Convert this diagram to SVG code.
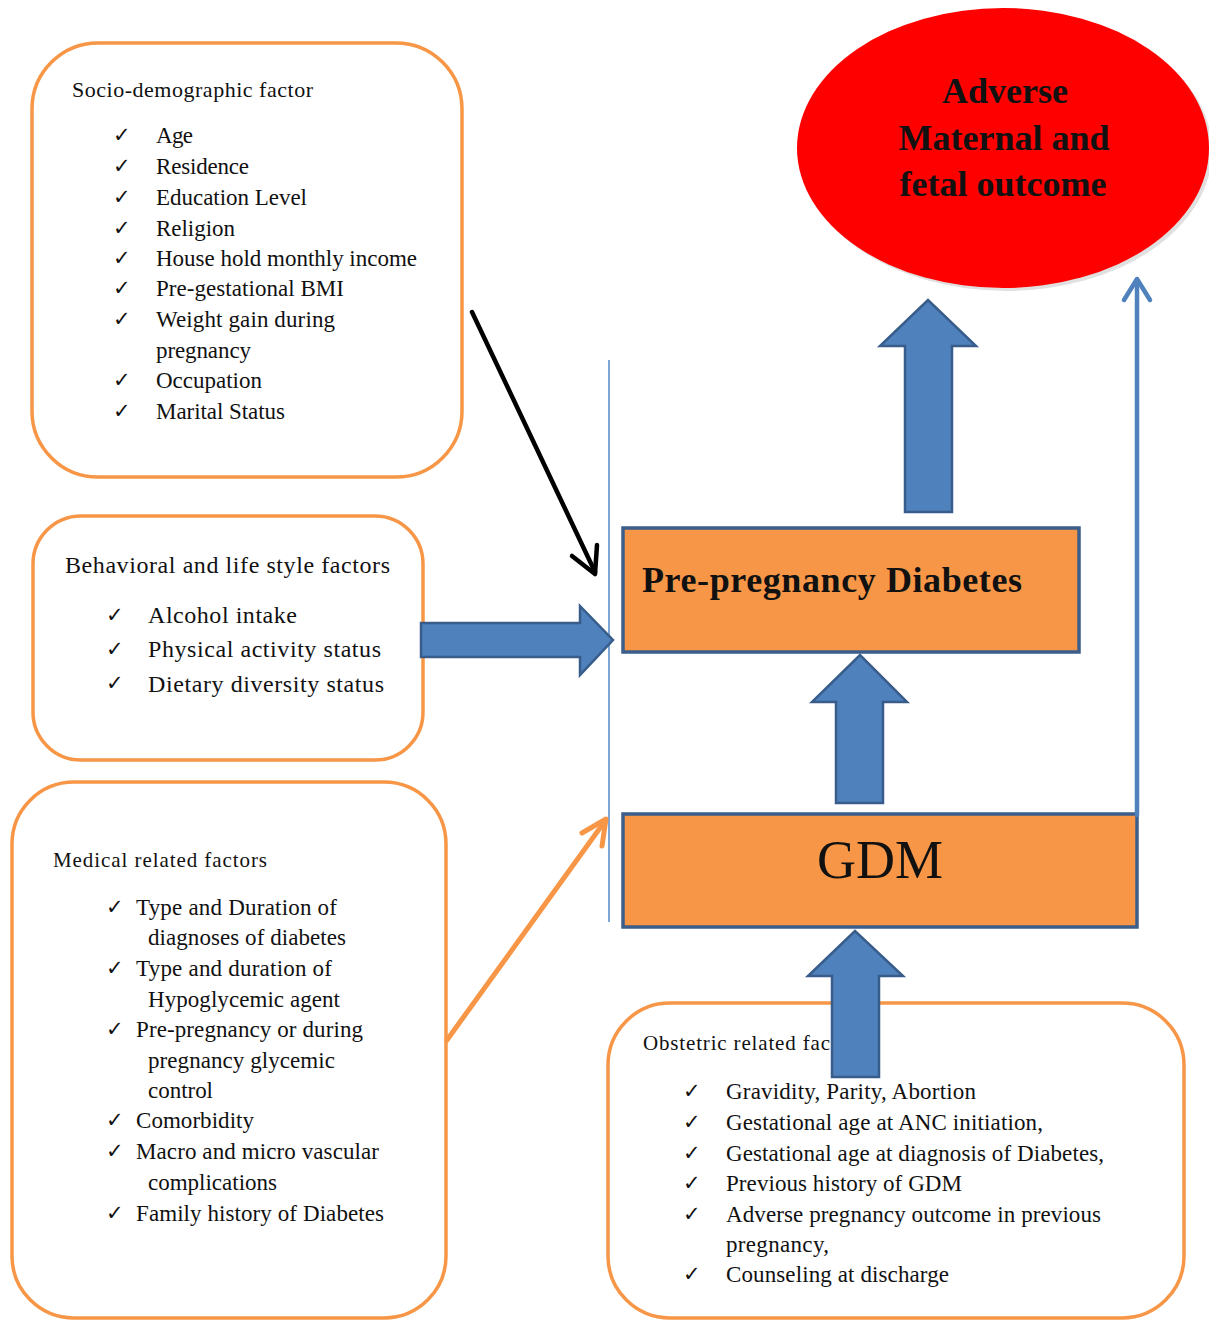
<svg xmlns="http://www.w3.org/2000/svg" width="1209" height="1321" viewBox="0 0 1209 1321">
<style>
.box{fill:#fff;stroke:#F79646;stroke-width:3.5}
.t{font-family:"Liberation Serif","Times New Roman",serif;fill:#111}
.ck{font-family:"DejaVu Sans",sans-serif;font-size:21px;fill:#111}
.blk{fill:#4F81BD;stroke:#385D8A;stroke-width:2.5;stroke-linejoin:miter}
.rect{fill:#F79646;stroke:#3B5E8C;stroke-width:3.5}
</style>
<rect width="1209" height="1321" fill="#fff"/>

<g id="socio">
<rect class="box" x="32" y="43" width="430" height="434" rx="66" ry="66"/>
<text class="t" x="72" y="97" font-size="22" textLength="241">Socio-demographic factor</text>
<g class="ck"><text x="113" y="142">✓</text><text x="113" y="173">✓</text><text x="113" y="204">✓</text><text x="113" y="235">✓</text><text x="113" y="265">✓</text><text x="113" y="295">✓</text><text x="113" y="326">✓</text><text x="113" y="387">✓</text><text x="113" y="418">✓</text></g>
<g class="t" font-size="23">
<text x="156" y="143" textLength="37">Age</text>
<text x="156" y="174" textLength="93">Residence</text>
<text x="156" y="205" textLength="151">Education Level</text>
<text x="156" y="236" textLength="79">Religion</text>
<text x="156" y="266" textLength="261">House hold monthly income</text>
<text x="156" y="296" textLength="188">Pre-gestational BMI</text>
<text x="156" y="327" textLength="179">Weight gain during</text>
<text x="156" y="358" textLength="95">pregnancy</text>
<text x="156" y="388" textLength="106">Occupation</text>
<text x="156" y="419" textLength="129">Marital Status</text>
</g>
</g>

<g id="behavioral">
<rect class="box" x="33" y="516" width="390" height="244" rx="48" ry="48"/>
<text class="t" x="65" y="573" font-size="24" textLength="325">Behavioral and life style factors</text>
<g class="ck"><text x="106" y="622">✓</text><text x="106" y="656">✓</text><text x="106" y="690">✓</text></g>
<g class="t" font-size="24">
<text x="148" y="623" textLength="149">Alcohol intake</text>
<text x="148" y="657" textLength="233">Physical activity status</text>
<text x="148" y="692" textLength="236">Dietary diversity status</text>
</g>
</g>

<g id="medical">
<rect class="box" x="12" y="782" width="434" height="536" rx="62" ry="62"/>
<text class="t" x="53" y="867" font-size="21" textLength="214">Medical related factors</text>
<g class="ck"><text x="106" y="914">✓</text><text x="106" y="975">✓</text><text x="106" y="1036">✓</text><text x="106" y="1127">✓</text><text x="106" y="1158">✓</text><text x="106" y="1220">✓</text></g>
<g class="t" font-size="23">
<text x="136" y="915" textLength="201">Type and Duration of</text>
<text x="148" y="945" textLength="198">diagnoses of diabetes</text>
<text x="136" y="976" textLength="196">Type and duration of</text>
<text x="148" y="1007" textLength="192">Hypoglycemic agent</text>
<text x="136" y="1037" textLength="227">Pre-pregnancy or during</text>
<text x="148" y="1068" textLength="187">pregnancy glycemic</text>
<text x="148" y="1098" textLength="65">control</text>
<text x="136" y="1128" textLength="118">Comorbidity</text>
<text x="136" y="1159" textLength="243">Macro and micro vascular</text>
<text x="148" y="1190" textLength="129">complications</text>
<text x="136" y="1221" textLength="248">Family history of Diabetes</text>
</g>
</g>

<g id="obstetric">
<rect class="box" x="608" y="1003" width="576" height="315" rx="62" ry="62"/>
<text class="t" x="643" y="1050" font-size="21" textLength="187">Obstetric related fac</text>
<g class="ck"><text x="683" y="1098">✓</text><text x="683" y="1129">✓</text><text x="683" y="1160">✓</text><text x="683" y="1190">✓</text><text x="683" y="1221">✓</text><text x="683" y="1281">✓</text></g>
<g class="t" font-size="23">
<text x="726" y="1099" textLength="250">Gravidity, Parity, Abortion</text>
<text x="726" y="1130" textLength="317">Gestational age at ANC initiation,</text>
<text x="726" y="1161" textLength="378">Gestational age at diagnosis of Diabetes,</text>
<text x="726" y="1191" textLength="236">Previous history of GDM</text>
<text x="726" y="1222" textLength="375">Adverse pregnancy outcome in previous</text>
<text x="726" y="1252" textLength="103">pregnancy,</text>
<text x="726" y="1282" textLength="223">Counseling at discharge</text>
</g>
</g>

<g id="outcome">
<ellipse cx="1006" cy="151" rx="206" ry="140" fill="#000" opacity="0.12"/>
<ellipse cx="1003" cy="148" rx="206" ry="140" fill="#FF0000"/>
<g class="t" font-size="36" font-weight="bold" text-anchor="middle">
<text x="1005" y="103">Adverse</text>
<text x="1004" y="150">Maternal and</text>
<text x="1003" y="196">fetal outcome</text>
</g>
</g>

<g id="prepregnancy">
<rect class="rect" x="623" y="528" width="456" height="124"/>
<text class="t" x="642" y="592" font-size="36" font-weight="bold" textLength="380">Pre-pregnancy Diabetes</text>
</g>

<g id="gdm">
<rect class="rect" x="623" y="814" width="514" height="113"/>
<text class="t" x="880" y="878" font-size="54" text-anchor="middle">GDM</text>
</g>

<g id="connectors">
<line x1="609" y1="360" x2="609" y2="922" stroke="#7EA6D6" stroke-width="2"/>
<polygon class="blk" points="421,623 580,623 580,606 613,640 580,675 580,657 421,657"/>
<polygon class="blk" points="905,512 905,346 880,346 928,300 976,346 952,346 952,512"/>
<polygon class="blk" points="836,803 836,702 812,702 860,655 907,702 883,702 883,803"/>
<polygon class="blk" points="832,1077 832,976 808,976 855,931 903,976 879,976 879,1077"/>
<g fill="none" stroke="#000" stroke-width="4.5" stroke-linecap="round" stroke-linejoin="round">
<line x1="472" y1="312" x2="595" y2="572"/>
<polyline points="572,556 595,574 597,545"/>
</g>
<g fill="none" stroke="#F79646" stroke-width="5" stroke-linecap="round" stroke-linejoin="round">
<line x1="447" y1="1040" x2="605" y2="821"/>
<polyline points="582,833 606,819 602,846"/>
</g>
<g fill="none" stroke="#4F81BD" stroke-width="4.5" stroke-linecap="round" stroke-linejoin="round">
<line x1="1137" y1="815" x2="1137" y2="280"/>
<polyline points="1124,300 1137,279 1150,300"/>
</g>
</g>
</svg>
